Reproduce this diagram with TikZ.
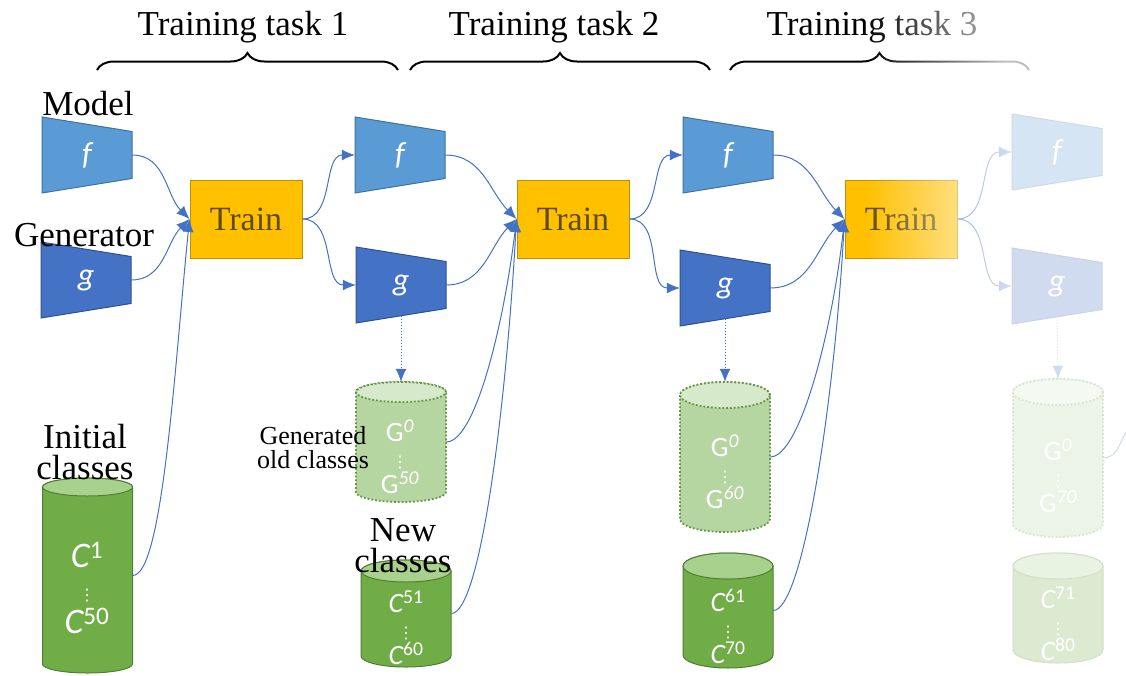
\documentclass[tikz,border=0pt]{standalone}
\usepackage{fontspec}
\setmainfont{Liberation Serif}
\newfontfamily\carlito{Carlito}
\newfontfamily\dejavu{DejaVu Sans}
\usetikzlibrary{arrows.meta,decorations.pathreplacing,fadings}

\definecolor{fblue}{RGB}{91,155,213}
\definecolor{fline}{RGB}{65,113,156}
\definecolor{gblue}{RGB}{68,114,196}
\definecolor{gline}{RGB}{47,82,143}
\definecolor{trainor}{RGB}{255,192,0}
\definecolor{trainline}{RGB}{191,144,0}
\definecolor{traintext}{RGB}{96,74,0}
\definecolor{cgreen}{RGB}{112,173,71}
\definecolor{ctop}{RGB}{169,209,142}
\definecolor{cline}{RGB}{80,126,50}
\definecolor{ggreen}{RGB}{181,214,160}
\definecolor{gtop}{RGB}{214,233,202}
\definecolor{gdot}{RGB}{100,150,70}
\definecolor{linkblue}{RGB}{68,114,196}

\tikzfading[name=fadeoff, left color=transparent!100, right color=transparent!25]

% vertical dots
\newcommand{\vdotz}{{\dejavu\fontsize{16}{16}\selectfont ⋮}}
% trapezoid: name, x, y, style, text
\newcommand{\trap}[5]{%
  \filldraw[#4] (#2-45,#3+38) -- (#2+45,#3+23.5) -- (#2+45,#3-23.5) -- (#2-45,#3-38) -- cycle;
  \node[trapin] (#1) at (#2,#3) {#5};}
% cylinder: name, x, y, height, end radius, body style, end style
\newcommand{\tank}[7]{%
  \path[#6] (#2-45,#3+#4/2-#5) -- (#2-45,#3-#4/2+#5)
    arc[start angle=180,end angle=360,x radius=45pt,y radius=#5pt] -- (#2+45,#3+#4/2-#5)
    arc[start angle=0,end angle=180,x radius=45pt,y radius=#5pt] -- cycle;
  \path[#7] (#2,#3+#4/2-#5) ellipse[x radius=45pt,y radius=#5pt];
  \node[inner sep=0pt, minimum width=90pt, minimum height=#4pt] (#1) at (#2,#3) {};}

\begin{document}
\begin{tikzpicture}[x=1pt,y=1pt,
  trapin/.style={inner sep=0pt, minimum width=90pt, minimum height=47pt, text=white,
    font=\carlito\itshape\fontsize{32}{32}\selectfont},
  fshape/.style={fill=fblue, draw=fline, line width=1pt},
  gshape/.style={fill=gblue, draw=gline, line width=1pt},
  train/.style={rectangle, fill=trainor, draw=trainline, line width=1pt, minimum width=112pt,
    minimum height=78pt, text=traintext, font=\fontsize{34}{34}\selectfont},
  dbody/.style={fill=cgreen, draw=cline, line width=1pt},
  dtop/.style={fill=ctop, draw=cline, line width=1pt},
  gbody/.style={fill=ggreen, draw=gdot, line width=1.8pt, dotted},
  gtopst/.style={fill=gtop, draw=gdot, line width=1.8pt, dotted},
  lab/.style={text=white, align=center, font=\carlito\fontsize{28}{26}\selectfont},
  big/.style={font=\fontsize{35}{31}\selectfont, align=center},
  link/.style={draw=linkblue, line width=1pt, -{Latex[length=13pt,width=11pt]}},
  gap/.style={draw=linkblue, line width=1pt, dotted, -{Latex[length=13pt,width=11pt]}},
  brc/.style={decorate, decoration={brace, amplitude=17pt}, line width=2pt}]
  \useasboundingbox (0,0) rectangle (1126,-675);

  % tasks on top
  \node[big, anchor=base] (task1) at (243,-35) {Training task 1};
  \node[big, anchor=base] (task2) at (554,-35) {Training task 2};
  \node[big, anchor=base] (task3) at (872,-35) {Training task 3};
  \draw[brc] (97,-70) -- (398,-70);
  \draw[brc] (410,-70) -- (710,-70);
  \draw[brc] (730,-70) -- (1029,-70);

  % models and generators
  \trap{f1}{87}{-155}{fshape}{f}
  \trap{g1}{86}{-280}{gshape}{g}
  \trap{f2}{400}{-155}{fshape}{f}
  \trap{g2}{401}{-285}{gshape}{g}
  \trap{f3}{728}{-155}{fshape}{f}
  \trap{g3}{725}{-288}{gshape}{g}
  \trap{f4}{1057}{-152}{fshape}{f}
  \trap{g4}{1057}{-286}{gshape}{g}

  \node[train] (t1) at (246,-219) {Train};
  \node[train] (t2) at (573,-219) {Train};
  \node[train] (t3) at (901,-219) {Train};

  % data
  \tank{c1}{87.5}{-575.5}{195}{9}{dbody}{dtop}
  \tank{G2}{401}{-442}{120}{10}{gbody}{gtopst}
  \tank{c2}{406}{-613.5}{107}{11}{dbody}{dtop}
  \tank{G3}{725}{-457}{150}{13}{gbody}{gtopst}
  \tank{c3}{728}{-610.5}{115}{13}{dbody}{dtop}
  \tank{G4}{1058}{-458}{158}{13}{gbody}{gtopst}
  \tank{c4}{1058}{-608}{110}{13}{dbody}{dtop}

  \node[lab, font=\carlito\fontsize{36}{33}\selectfont] (l1) at (87,-588)
    {{\itshape C}\textsuperscript{1}\\\vdotz\\{\itshape C}\textsuperscript{50}};
  \node[lab] (lG2) at (400,-457) {G\textsuperscript{\itshape 0}\\\vdotz\\G\textsuperscript{\itshape 50}};
  \node[lab] (l2) at (406,-628) {{\itshape C}\textsuperscript{51}\\\vdotz\\{\itshape C}\textsuperscript{60}};
  \node[lab] (lG3) at (725,-472) {G\textsuperscript{\itshape 0}\\\vdotz\\G\textsuperscript{\itshape 60}};
  \node[lab] (l3) at (728,-626) {{\itshape C}\textsuperscript{61}\\\vdotz\\{\itshape C}\textsuperscript{70}};
  \node[lab] (lG4) at (1058,-476) {G\textsuperscript{\itshape 0}\\\vdotz\\G\textsuperscript{\itshape 70}};
  \node[lab] (l4) at (1058,-624) {{\itshape C}\textsuperscript{71}\\\vdotz\\{\itshape C}\textsuperscript{80}};

  % labels
  \node[big, anchor=base] (model) at (88,-115) {Model};
  \node[big, anchor=base] (gener) at (84,-246) {Generator};
  \node[big] (init) at (85,-452) {Initial\\classes};
  \node[big] (new) at (403,-546) {New\\classes};
  \node[align=center, font=\fontsize{26}{24}\selectfont] (old) at (313,-448) {Generated\\old classes};

  % task 1
  \draw[link] (f1.east) to[out=0,in=135] (t1.west);
  \draw[link] (g1.east) to[out=0,in=225] (t1.west);
  \draw[link] (c1.east) .. controls +(30,0) and +(-15,-150) .. (t1.west);
  \draw[link] (t1.east) to[out=0,in=180] (f2.west);
  \draw[link] (t1.east) to[out=0,in=180] (g2.west);
  \draw[gap] ([yshift=-7pt]g2.south) -- (G2.north);
  % task 2
  \draw[link] (f2.east) to[out=0,in=135] (t2.west);
  \draw[link] (g2.east) to[out=0,in=225] (t2.west);
  \draw[link] (G2.east) .. controls +(30,0) and +(-12,-100) .. (t2.west);
  \draw[link] (c2.east) .. controls +(30,0) and +(-10,-180) .. (t2.west);
  \draw[link] (t2.east) to[out=0,in=180] (f3.west);
  \draw[link] (t2.east) to[out=0,in=180] (g3.west);
  \draw[gap] ([yshift=-7pt]g3.south) -- (G3.north);
  % task 3
  \draw[link] (f3.east) to[out=0,in=135] (t3.west);
  \draw[link] (g3.east) to[out=0,in=225] (t3.west);
  \draw[link] (G3.east) .. controls +(30,0) and +(-12,-110) .. (t3.west);
  \draw[link] (c3.east) .. controls +(30,0) and +(-10,-180) .. (t3.west);
  \draw[link] (t3.east) to[out=0,in=180] (f4.west);
  \draw[link] (t3.east) to[out=0,in=180] (g4.west);
  \draw[gap] ([yshift=-7pt]g4.south) -- (G4.north);
  \coordinate (off) at (1126,-432);
  \draw[draw=linkblue, line width=1pt] (G4.east) to[out=0,in=240] (off);

  % fade out to the right
  \fill[white, path fading=fadeoff] (865,0) rectangle (1005,-675);
  \fill[white, opacity=0.75] (1005,0) rectangle (1126,-675);
\end{tikzpicture}
\end{document}
